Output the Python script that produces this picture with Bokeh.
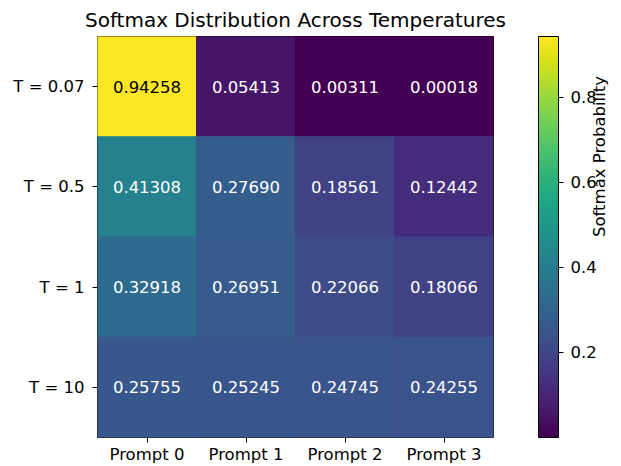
import numpy as np
from bokeh.plotting import figure
from bokeh.models import (ColumnDataSource, FactorRange, ColorBar, LinearColorMapper,
                          FixedTicker, CategoricalAxis)
from bokeh.palettes import Viridis256
from bokeh.core.properties import value
from bokeh.embed import file_html
from bokeh.resources import INLINE

# ---- data ----
prompts = ["Prompt 0", "Prompt 1", "Prompt 2", "Prompt 3"]
temps = ["T = 0.07", "T = 0.5", "T = 1", "T = 10"]
row_t007 = [0.94258, 0.05413, 0.00311, 0.00018]
row_t05 = [0.41308, 0.27690, 0.18561, 0.12442]
row_t1 = [0.32918, 0.26951, 0.22066, 0.18066]
row_t10 = [0.25755, 0.25245, 0.24745, 0.24255]
cbar_ticks = [0.2, 0.4, 0.6, 0.8]

rows = [row_t007, row_t05, row_t1, row_t10]
xs, ys, vals = [], [], []
for t, r in zip(temps, rows):
    for pr, v in zip(prompts, r):
        xs.append(pr)
        ys.append(t)
        vals.append(v)
vmin, vmax = min(vals), max(vals)
labels = [f"{v:.5f}" for v in vals]
tcolors = ["black" if v > 0.5 else "white" for v in vals]

mapper = LinearColorMapper(palette=Viridis256, low=vmin, high=vmax)
src = ColumnDataSource(dict(x=xs, y=ys, v=vals, lab=labels, tc=tcolors))

FONT = "DejaVu Sans"
p = figure(width=621, height=466, output_backend="svg", toolbar_location=None,
           x_range=FactorRange(*prompts), y_range=FactorRange(*reversed(temps)),
           title="Softmax Distribution Across Temperatures",
           min_border_left=97, min_border_top=27, min_border_right=124,
           min_border_bottom=0)
p.x_range.range_padding = 0
p.y_range.range_padding = 0
p.title.text_font = FONT
p.title.text_font_size = "20px"
p.title.text_font_style = "normal"
p.title.align = "center"
p.title.text_color = "black"

p.rect(x="x", y="y", width=1, height=1, source=src,
       fill_color={"field": "v", "transform": mapper},
       line_color={"field": "v", "transform": mapper}, line_width=1)
p.text(x="x", y="y", text="lab", source=src, text_color="tc",
       text_font=value(FONT), text_font_size="16.5px",
       text_align="center", text_baseline="middle")

p.grid.visible = False
p.outline_line_color = "black"
p.outline_line_width = 1
p.background_fill_color = "white"
for ax in (p.xaxis[0], p.yaxis[0]):
    ax.axis_line_color = None
    ax.major_tick_out = 5
    ax.major_tick_in = 0
    ax.major_tick_line_color = "black"
    ax.minor_tick_line_color = None
    ax.major_label_text_font = FONT
    ax.major_label_text_font_size = "16.5px"
    ax.major_label_text_color = "black"
p.yaxis.major_label_standoff = 8
p.xaxis.major_label_standoff = 2

cb = ColorBar(color_mapper=mapper, width=20, height=401, padding=0, margin=0,
              location=(441, 0),
              ticker=FixedTicker(ticks=cbar_ticks),
              major_tick_in=0, major_tick_out=5, major_tick_line_color="black",
              minor_tick_line_color=None,
              bar_line_color="black", bar_line_width=1,
              major_label_text_font=FONT, major_label_text_font_size="16.5px",
              major_label_text_color="black", label_standoff=7,
              background_fill_color=None, border_line_color=None)
p.add_layout(cb)

# colour bar title, via an invisible right-hand axis
p.extra_y_ranges = {"cbt": FactorRange(factors=[" "])}
rax = CategoricalAxis(y_range_name="cbt", axis_label="Softmax Probability",
                      axis_line_color=None, bounds=(0, 0.618),
                      major_tick_line_color=None, minor_tick_line_color=None,
                      major_label_text_font_size="1px",
                      major_label_text_alpha=0,
                      axis_label_text_font=FONT, axis_label_text_font_size="16.5px",
                      axis_label_text_font_style="normal",
                      axis_label_text_color="black", axis_label_standoff=100)
try:
    rax.axis_label_orientation = np.pi / 2
except Exception:
    pass
p.add_layout(rax, "right")

open("out.html", "w").write(file_html(p, INLINE))
